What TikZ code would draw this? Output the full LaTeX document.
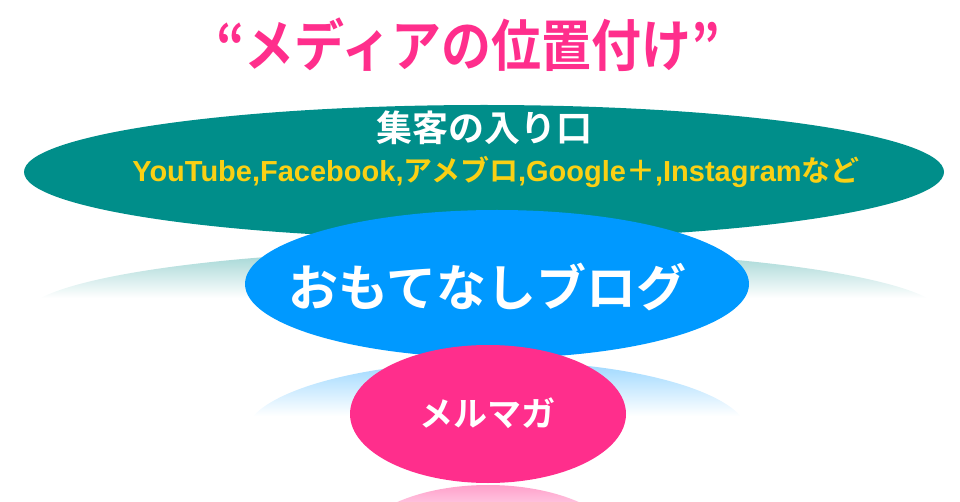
\documentclass[tikz,border=0pt]{standalone}
\usepackage{fontspec}
\usepackage{tikz}
\usetikzlibrary{shapes.geometric}
\newfontfamily\jpfont{Noto Sans CJK JP}[BoldFont={* Bold}]
\newfontfamily\latfont{Liberation Sans}
\newcommand\mlat[1]{{\latfont\bfseries #1}}
\definecolor{entryteal}{RGB}{0,142,138}
\definecolor{blogblue}{RGB}{0,153,255}
\definecolor{mailpink}{RGB}{255,46,140}
\definecolor{tagyellow}{RGB}{250,208,20}
\tikzset{jp/.style={font=\jpfont\bfseries\fontsize{#1}{#1}\selectfont}}

\begin{document}
\begin{tikzpicture}[x=1pt,y=-1pt]
\tikzstyle{every node}+=[inner sep=0pt]
\tikzstyle{media}=[ellipse, draw=none]
\useasboundingbox (0,0) rectangle (960,502);
% reflections under each layer
\begin{scope}
\clip (484,316) ellipse [x radius=460pt, y radius=67pt];
\shade [top color=entryteal!40, bottom color=white] (0,249) rectangle (960,298);
\end{scope}
\begin{scope}
\clip (497,435) ellipse [x radius=252pt, y radius=74pt];
\shade [top color=blogblue!40, bottom color=white] (0,361) rectangle (960,416);
\end{scope}
\begin{scope}
\clip (488,554) ellipse [x radius=138pt, y radius=69pt];
\shade [top color=mailpink!45, bottom color=white] (0,485) rectangle (960,535);
\end{scope}
% layers
\node [media, fill=entryteal, minimum width=920pt, minimum height=134pt] (entry) at (484,172) {};
\node [media, fill=blogblue, minimum width=504pt, minimum height=148pt] (blog) at (497,284) {};
\node [media, fill=mailpink, minimum width=276pt, minimum height=138pt] (mail) at (488,414) {};
% texts
\node [jp=50, text=mailpink, yscale=1.12, transform shape] (title) at (468,45) {“メディアの位置付け”};
\node [jp=36, text=white] (entrytitle) at (484,128) {集客の入り口};
\node [jp=29, text=tagyellow] (entrylist) at (496,172)
  {\mlat{YouTube,Facebook,}アメブロ\mlat{,Google}＋\mlat{,Instagram}など};
\node [jp=50, text=white] (blogtext) at (487,287) {おもてなしブログ};
\node [jp=34, text=white] (mailtext) at (487,413) {メルマガ};
\end{tikzpicture}
\end{document}
